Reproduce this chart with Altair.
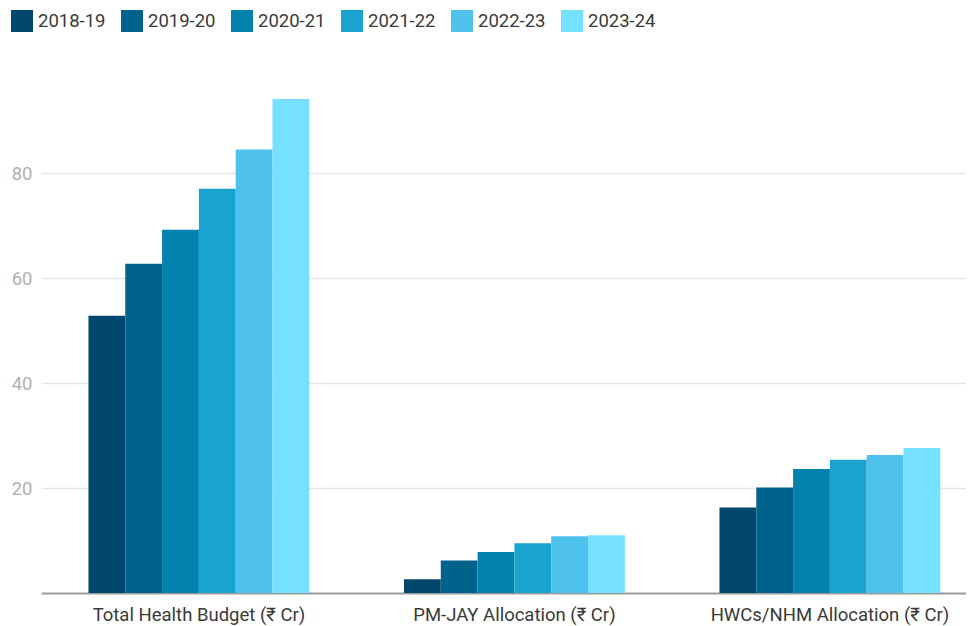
import altair as alt
import pandas as pd

categories = ["Total Health Budget (₹ Cr)", "PM-JAY Allocation (₹ Cr)", "HWCs/NHM Allocation (₹ Cr)"]
years = ["2018-19", "2019-20", "2020-21", "2021-22", "2022-23", "2023-24"]
total_budget = [52.8, 62.7, 69.2, 77.0, 84.5, 94.1]
pmjay = [2.6, 6.2, 7.8, 9.5, 10.8, 11.0]
hwc_nhm = [16.3, 20.1, 23.6, 25.4, 26.3, 27.6]
colors = ["#02476d", "#01628b", "#0282ad", "#1ba3d0", "#4ec2ec", "#75e1fe"]

rows = []
for cat, vals in zip(categories, [total_budget, pmjay, hwc_nhm]):
    for yr, v in zip(years, vals):
        rows.append({"category": cat, "year": yr, "value": v})
df = pd.DataFrame(rows)

chart = alt.Chart(df).mark_bar().encode(
    x=alt.X("category:N", sort=categories, title=None,
            scale=alt.Scale(paddingInner=0.3, paddingOuter=0.1159, align=0.649),
            axis=alt.Axis(labelAngle=0, ticks=False, labelFontSize=18.5, labelColor="#3a3a3a",
                          labelPadding=12, domainColor="#9a9a9a", domainWidth=2, grid=False,
                          labelFont="Roboto", labelLimit=500)),
    xOffset=alt.XOffset("year:N", sort=years, scale=alt.Scale(paddingInner=0, paddingOuter=0)),
    y=alt.Y("value:Q", title=None,
            scale=alt.Scale(domain=[0, 96], nice=False, zero=True),
            axis=alt.Axis(values=[20, 40, 60, 80], ticks=False, domain=False, labelColor="#b0b0b0",
                          labelFontSize=18.5, labelPadding=9, gridColor="#e6e6e6", gridWidth=1.5,
                          labelFont="Roboto")),
    color=alt.Color("year:N", sort=years,
                    scale=alt.Scale(domain=years, range=colors),
                    legend=alt.Legend(orient="none", legendX=-30, legendY=-79, direction="horizontal",
                                      columns=6, title=None, symbolType="square", symbolSize=484,
                                      symbolStrokeWidth=0, symbolOpacity=1, labelFontSize=18.5,
                                      labelColor="#3a3a3a", labelFont="Roboto", columnPadding=15,
                                      labelOffset=5, labelLimit=200)),
).properties(
    width=925, height=504,
    padding={"left": 33, "top": 81, "right": 0, "bottom": 33},
    autosize=alt.AutoSizeParams(type="none"),
).configure(font="Roboto").configure_view(stroke=None, strokeWidth=0)

chart.save("out.html", embed_options={"renderer": "svg", "actions": False})
